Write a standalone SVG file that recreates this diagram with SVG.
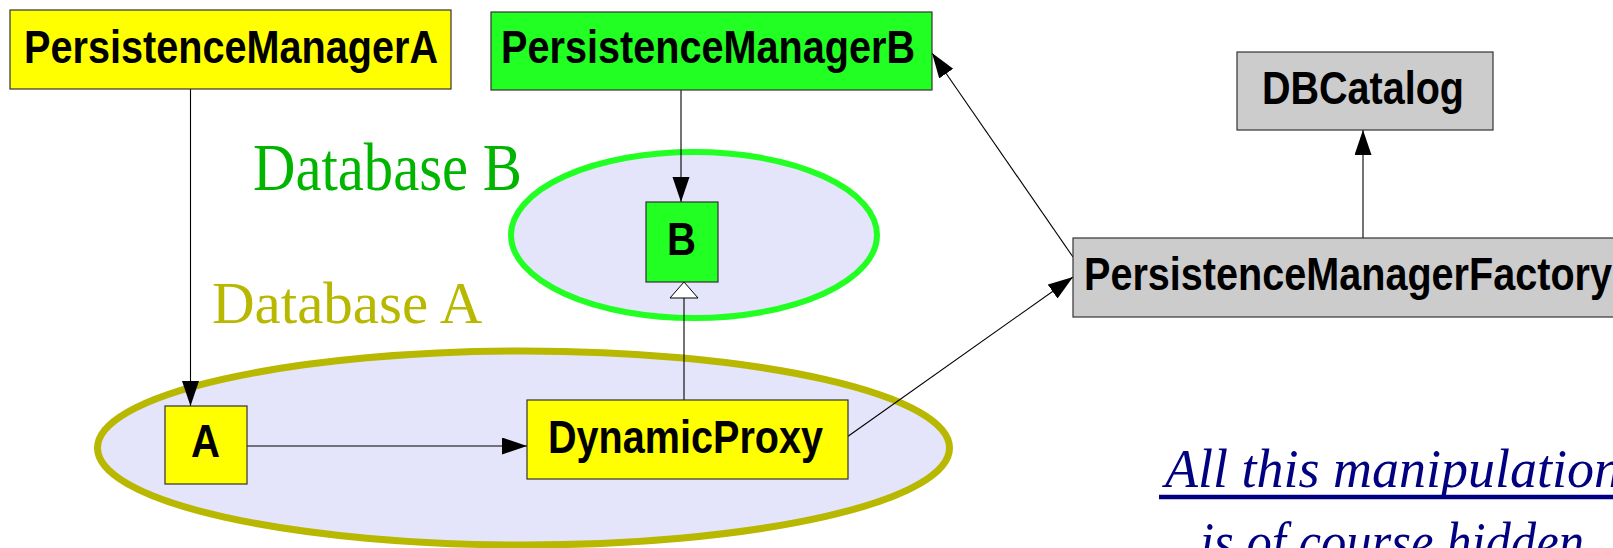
<svg xmlns="http://www.w3.org/2000/svg" width="1613" height="548" viewBox="0 0 1613 548">
  <style>
    .box { stroke: #333333; stroke-width: 1.2; }
    .yellow { fill: #ffff00; }
    .green { fill: #22ff22; }
    .gray { fill: #cccccc; }
    .lbl { font-family: "Liberation Sans", Arial, sans-serif; font-weight: bold; font-size: 47px; fill: #000000; }
    .db { font-family: "Liberation Serif", "Times New Roman", serif; }
    .edge { stroke: #000000; stroke-width: 1.1; fill: none; }
    .note { font-family: "Liberation Serif", "Times New Roman", serif; font-style: italic; font-size: 54px; fill: #000080; }
  </style>
  <defs>
    <marker id="arrow" markerUnits="userSpaceOnUse" markerWidth="27" markerHeight="19" refX="25" refY="8.5" orient="auto">
      <path d="M0,0 L25,8.5 L0,17 z" fill="#000000"/>
    </marker>
    <marker id="inherit" markerUnits="userSpaceOnUse" markerWidth="20" markerHeight="32" refX="17" refY="15" orient="auto">
      <path d="M1,1 L17,15 L1,29 z" fill="#ffffff" stroke="#000000" stroke-width="1"/>
    </marker>
  </defs>

  <rect width="1613" height="548" fill="#ffffff"/>

  <!-- database regions -->
  <g id="databaseB">
    <ellipse cx="694" cy="235" rx="183" ry="83" fill="#e4e4fa" stroke="#22ff22" stroke-width="6"/>
    <text class="db" x="253" y="190" font-size="67" textLength="269" lengthAdjust="spacingAndGlyphs" fill="#00b400">Database B</text>
  </g>
  <g id="databaseA">
    <ellipse cx="523.5" cy="448" rx="426" ry="97" fill="#e4e4fa" stroke="#b8b800" stroke-width="7"/>
    <text class="db" x="212" y="323" font-size="59" fill="#b8b800">Database A</text>
  </g>

  <!-- connectors -->
  <g id="connectors">
    <line class="edge" x1="190.5" y1="89" x2="190.5" y2="406" marker-end="url(#arrow)"/>
    <line class="edge" x1="681" y1="90" x2="681" y2="202" marker-end="url(#arrow)"/>
    <line class="edge" x1="247" y1="446" x2="527" y2="446" marker-end="url(#arrow)"/>
    <line class="edge" x1="684" y1="400" x2="684" y2="282" marker-end="url(#inherit)"/>
    <line class="edge" x1="1073" y1="257" x2="932" y2="53" marker-end="url(#arrow)"/>
    <line class="edge" x1="847" y1="437" x2="1073" y2="277" marker-end="url(#arrow)"/>
    <line class="edge" x1="1363" y1="238" x2="1363" y2="130" marker-end="url(#arrow)"/>
  </g>

  <!-- nodes -->
  <g id="PersistenceManagerA">
    <rect class="box yellow" x="10" y="10" width="441" height="79"/>
    <text class="lbl" x="24" y="63" textLength="414" lengthAdjust="spacingAndGlyphs">PersistenceManagerA</text>
  </g>
  <g id="PersistenceManagerB">
    <rect class="box green" x="491" y="12" width="441" height="78"/>
    <text class="lbl" x="501" y="63" textLength="414" lengthAdjust="spacingAndGlyphs">PersistenceManagerB</text>
  </g>
  <g id="DBCatalog">
    <rect class="box gray" x="1237" y="52" width="256" height="78"/>
    <text class="lbl" x="1262" y="104" textLength="202" lengthAdjust="spacingAndGlyphs">DBCatalog</text>
  </g>
  <g id="PersistenceManagerFactory">
    <rect class="box gray" x="1073" y="238" width="560" height="79"/>
    <text class="lbl" x="1084" y="290" textLength="528" lengthAdjust="spacingAndGlyphs">PersistenceManagerFactory</text>
  </g>
  <g id="B">
    <rect class="box green" x="646" y="202" width="72" height="80"/>
    <text class="lbl" x="667" y="255" textLength="29" lengthAdjust="spacingAndGlyphs">B</text>
  </g>
  <g id="A">
    <rect class="box yellow" x="165" y="406" width="82" height="78"/>
    <text class="lbl" x="191" y="457" textLength="29" lengthAdjust="spacingAndGlyphs">A</text>
  </g>
  <g id="DynamicProxy">
    <rect class="box yellow" x="527" y="400" width="321" height="79"/>
    <text class="lbl" x="548" y="453" textLength="275" lengthAdjust="spacingAndGlyphs">DynamicProxy</text>
  </g>

  <!-- remark -->
  <g id="remark">
    <text class="note" x="1165" y="487">All this manipulation</text>
    <line x1="1159" y1="497" x2="1613" y2="497" stroke="#000080" stroke-width="4.5"/>
    <text class="note" x="1200" y="560" textLength="384" lengthAdjust="spacingAndGlyphs">is of course hidden</text>
  </g>
</svg>
